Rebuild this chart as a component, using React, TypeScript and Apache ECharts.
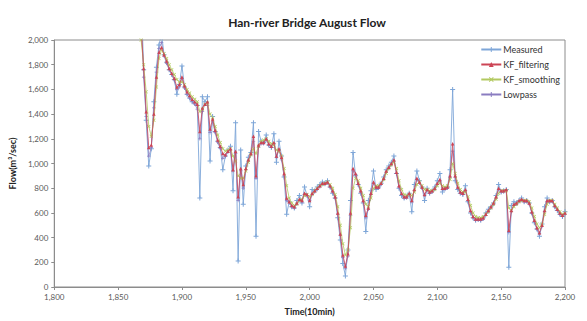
import React, { useEffect, useRef } from "react";
import * as echarts from "echarts";

// time axis: one sample every STEP units starting at T0
const T0 = 1868;
const STEP = 2;

const measured = [
  2400, 1760, 1350, 980, 1120, 1500, 1780, 1960, 2050, 1880,
  1820, 1760, 1720, 1680, 1560, 1640, 1790, 1620, 1560, 1530,
  1500, 1490, 1470, 720, 1540, 1500, 1540, 1020, 1380, 1260,
  1180, 1130, 950, 1060, 1110, 1140, 780, 1330, 210, 1110,
  670, 980, 1050, 1090, 1330, 410, 1260, 1180, 1170, 1230,
  1150, 1130, 1240, 1010, 1180, 1060, 890, 590, 690, 650,
  640, 700, 740, 680, 810, 740, 650, 790, 780, 810,
  830, 850, 840, 860, 810, 760, 720, 560, 380, 190,
  90, 300, 700, 1090, 900, 830, 760, 680, 450, 700,
  780, 940, 790, 810, 840, 890, 950, 980, 1010, 1060,
  920, 800, 740, 720, 730, 760, 610, 830, 940, 860,
  810, 700, 800, 760, 780, 810, 860, 920, 770, 800,
  810, 950, 1600, 860, 790, 760, 750, 820, 690, 600,
  560, 540, 550, 540, 560, 600, 630, 650, 680, 740,
  830, 770, 780, 790, 160, 660, 690, 680, 700, 720,
  690, 700, 680, 600, 520, 470, 410, 510, 650, 720,
  690, 700, 650, 620, 590, 570, 610,
];

const kfFiltering = [
  2100, 1770, 1420, 1130, 1150, 1400, 1700, 1900, 1940, 1880,
  1830, 1770, 1730, 1690, 1620, 1640, 1700, 1630, 1580, 1550,
  1520, 1500, 1480, 1260, 1450, 1480, 1500, 1280, 1360, 1270,
  1190, 1140, 1080, 1070, 1100, 1120, 950, 1100, 730, 960,
  830, 960, 1030, 1080, 1220, 900, 1150, 1170, 1170, 1200,
  1160, 1140, 1170, 1060, 1120, 1050, 920, 720, 690, 660,
  650, 680, 710, 700, 760, 750, 700, 760, 780, 800,
  820, 840, 840, 850, 820, 780, 730, 600, 430, 260,
  170, 270, 600, 960, 920, 840, 780, 700, 580, 640,
  760, 850, 810, 810, 840, 880, 940, 970, 1000, 1030,
  930, 820, 760, 730, 730, 760, 700, 790, 880, 850,
  810, 750, 790, 770, 780, 800, 840, 870, 800, 800,
  810, 900, 1160, 900, 810, 770, 760, 790, 710, 620,
  570, 550, 550, 550, 560, 590, 620, 650, 680, 730,
  800, 780, 780, 790, 460, 620, 670, 680, 700, 710,
  700, 700, 680, 610, 540, 480, 440, 500, 620, 700,
  700, 700, 660, 630, 600, 580, 600,
];

const kfSmoothing = [
  2000, 1800, 1580, 1300, 1220, 1350, 1620, 1850, 1920, 1890,
  1850, 1800, 1760, 1720, 1680, 1660, 1660, 1640, 1600, 1570,
  1540, 1520, 1500, 1420, 1440, 1480, 1490, 1400, 1370, 1300,
  1230, 1170, 1120, 1100, 1110, 1120, 1060, 1020, 900, 880,
  880, 940, 1010, 1070, 1120, 1080, 1140, 1180, 1190, 1200,
  1180, 1160, 1150, 1110, 1100, 1060, 960, 820, 720, 680,
  660, 670, 700, 710, 740, 750, 730, 750, 780, 800,
  820, 830, 840, 850, 830, 800, 750, 650, 500, 350,
  260, 300, 480, 800, 880, 860, 800, 740, 670, 650,
  720, 800, 820, 820, 840, 870, 920, 960, 990, 1010,
  960, 860, 790, 750, 740, 750, 740, 770, 830, 850,
  820, 790, 790, 780, 780, 790, 820, 840, 820, 810,
  820, 870, 1000, 920, 840, 790, 770, 770, 730, 660,
  600, 570, 560, 560, 570, 590, 610, 640, 670, 710,
  760, 780, 780, 780, 640, 620, 650, 670, 690, 700,
  700, 700, 690, 640, 570, 510, 480, 510, 590, 670,
  700, 700, 670, 640, 610, 590, 600,
];

const lowpass = [
  2200, 1700, 1380, 1060, 1130, 1450, 1740, 1930, 1980, 1870,
  1810, 1760, 1720, 1670, 1600, 1620, 1690, 1610, 1560, 1530,
  1500, 1480, 1440, 1200, 1420, 1480, 1470, 1250, 1340, 1250,
  1170, 1120, 1040, 1060, 1090, 1110, 940, 1080, 700, 940,
  800, 950, 1020, 1070, 1180, 880, 1130, 1160, 1160, 1190,
  1150, 1130, 1160, 1050, 1110, 1030, 900, 700, 680, 650,
  640, 670, 700, 690, 750, 740, 700, 750, 770, 790,
  810, 830, 830, 840, 810, 770, 720, 590, 420, 240,
  150, 250, 580, 940, 910, 830, 770, 690, 560, 630,
  750, 840, 800, 800, 830, 870, 930, 960, 990, 1020,
  920, 810, 750, 720, 720, 750, 690, 780, 870, 840,
  800, 740, 780, 760, 770, 790, 830, 860, 790, 790,
  800, 890, 1100, 890, 800, 760, 750, 780, 700, 610,
  560, 540, 540, 540, 550, 580, 610, 640, 670, 720,
  790, 770, 770, 780, 440, 610, 660, 670, 690, 700,
  690, 690, 670, 600, 530, 470, 430, 490, 610, 690,
  690, 690, 650, 620, 590, 570, 590,
];

const seriesNames = ["Measured", "KF_filtering", "KF_smoothing", "Lowpass"];
const seriesColors = ["#7ea6d8", "#cc4455", "#b2c960", "#8a7cc0"];

const PLUS = "path://M4,0H6V4H10V6H6V10H4V6H0V4H4Z";
const CROSS = "path://M1.4,0L5,3.6L8.6,0L10,1.4L6.4,5L10,8.6L8.6,10L5,6.4L1.4,10L0,8.6L3.6,5L0,1.4Z";
const seriesSymbols = [PLUS, "triangle", CROSS, PLUS];
const seriesSymbolSizes = [5, 3.5, 3.5, 3.5];
const seriesZ = [2, 5, 4, 3];
const seriesWidths = [0.9, 0.8, 0.8, 0.7];

const fmt = (v: number) => v.toLocaleString("en-US");
const FONT = "Lato, 'Liberation Sans', sans-serif";

export default function App() {
  const ref = useRef<HTMLDivElement>(null);

  useEffect(() => {
    if (!ref.current) return;
    const chart = echarts.init(ref.current, undefined, { renderer: "svg" });
    const all = [measured, kfFiltering, kfSmoothing, lowpass];
    const series = all.map((vals, i) => ({
      name: seriesNames[i],
      type: "line",
      data: vals.map((v, k) => [T0 + k * STEP, v]),
      symbol: seriesSymbols[i],
      symbolSize: seriesSymbolSizes[i],
      showSymbol: true,
      lineStyle: { width: seriesWidths[i], color: seriesColors[i] },
      itemStyle: { color: seriesColors[i] },
      clip: true,
      z: seriesZ[i],
    }));

    chart.setOption({
      animation: false,
      backgroundColor: "#ffffff",
      textStyle: { fontFamily: FONT },
      title: {
        text: "Han-river Bridge August Flow",
        left: 302,
        textAlign: "center",
        top: 11,
        textStyle: { fontSize: 12, fontWeight: "bold", color: "#222", fontFamily: FONT },
      },
      legend: {
        orient: "vertical",
        right: 22,
        top: 40,
        itemGap: 6,
        itemWidth: 20,
        itemHeight: 6,
        data: seriesNames,
        textStyle: { fontSize: 9, color: "#333", fontFamily: FONT, padding: [0, 0, 0, -3] },
      },
      grid: {
        left: 54,
        right: 22,
        top: 40,
        bottom: 33,
        show: true,
        borderColor: "#8c8c8c",
        borderWidth: 1,
        containLabel: false,
      },
      xAxis: {
        type: "value",
        min: 1800,
        max: 2200,
        interval: 50,
        name: "Time(10min)",
        nameLocation: "middle",
        nameGap: 20,
        nameTextStyle: { fontSize: 9, fontWeight: "bold", color: "#222", fontFamily: FONT },
        axisLine: { show: true, lineStyle: { color: "#8c8c8c" } },
        axisTick: { show: true, length: 3, lineStyle: { color: "#8c8c8c" } },
        axisLabel: { fontSize: 8, color: "#595959", margin: 6, formatter: fmt, fontFamily: FONT },
        splitLine: { show: false },
      },
      yAxis: {
        type: "value",
        min: 0,
        max: 2000,
        interval: 200,
        name: "Flow(m³/sec)",
        nameLocation: "middle",
        nameGap: 33,
        nameTextStyle: { fontSize: 9, fontWeight: "bold", color: "#222", fontFamily: FONT },
        axisLine: { show: true, lineStyle: { color: "#8c8c8c" } },
        axisTick: { show: true, length: 3, lineStyle: { color: "#8c8c8c" } },
        axisLabel: { fontSize: 8, color: "#595959", margin: 6, formatter: fmt, fontFamily: FONT },
        splitLine: { show: false },
      },
      series,
    });

    return () => chart.dispose();
  }, []);

  return <div ref={ref} style={{ width: 587, height: 321, position: "absolute", left: 0, top: 0 }} />;
}
